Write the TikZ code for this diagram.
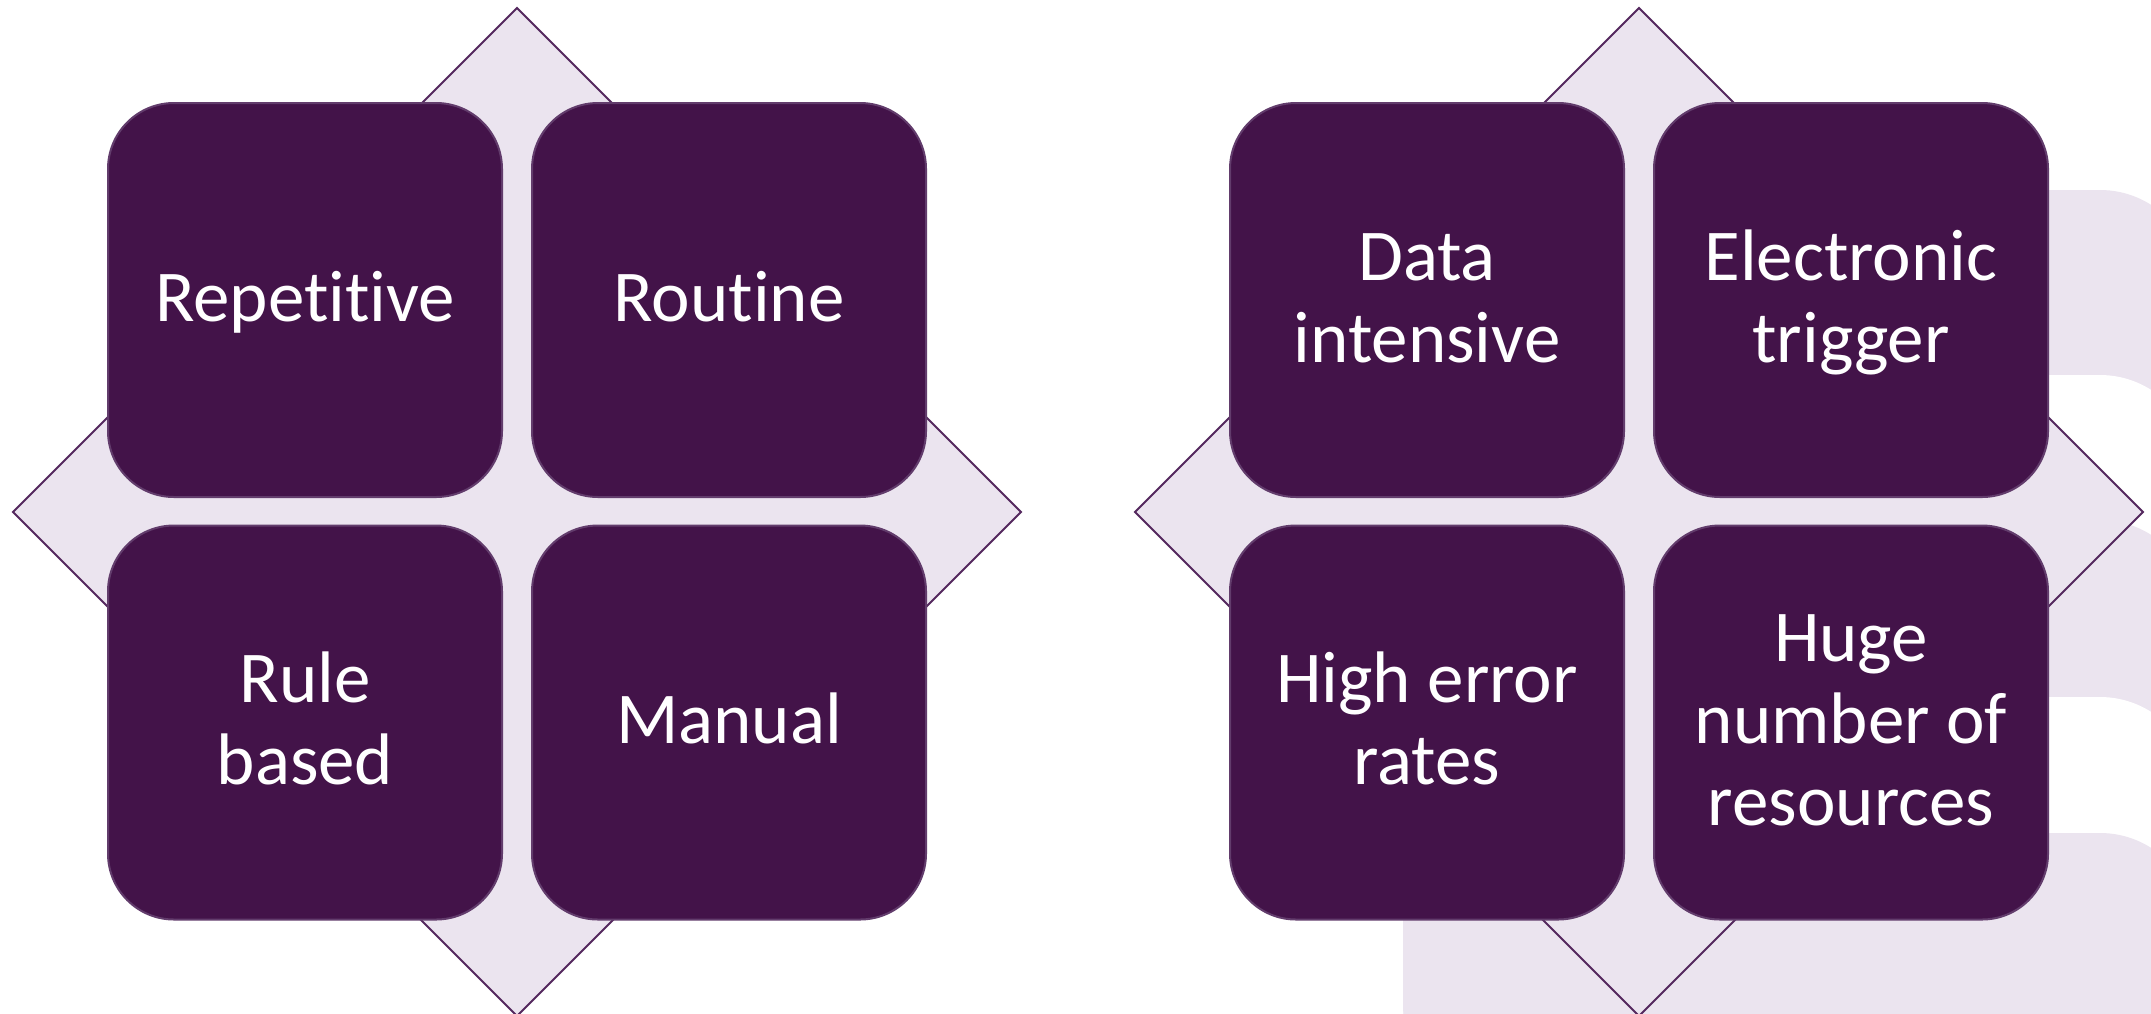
\documentclass[tikz,border=0pt]{standalone}
\usepackage{fontspec}
\setmainfont{Carlito}[Ligatures=NoCommon]
\definecolor{boxfill}{RGB}{67,19,73}
\definecolor{boxline}{RGB}{98,60,108}
\definecolor{lav}{RGB}{235,228,239}
\definecolor{diaLine}{RGB}{84,40,94}
\newcommand\lnst{\rule[-20pt]{0pt}{82pt}}
\begin{document}
\begin{tikzpicture}[x=1pt,y=-1pt,
  card/.style={draw=boxline, line width=2pt, fill=boxfill, rounded corners=66pt,
    minimum width=394pt, minimum height=394pt, inner sep=0pt, text=white,
    align=center, font=\fontsize{73}{82}\selectfont},
  dia/.style={draw=diaLine, line width=2pt, fill=lav},
  wm/.style={fill=lav},
  blank/.style={fill=white}]
\useasboundingbox (0,0) rectangle (2151,1013);
\fill[white] (0,0) rectangle (2151,1013);
% watermark stripes
\begin{scope}
\clip (0,0) rectangle (2151,1013);
\fill[wm] (1403,1100) -- (1403,190) -- (2100,190) [rounded corners=95pt] -- (2195,190) -- (2195,1100) -- cycle;
\fill[blank] (1403,1100) -- (1403,375) -- (2100,375) [rounded corners=95pt] -- (2195,375) -- (2195,1100) -- cycle;
\fill[wm] (1403,1100) -- (1403,520) -- (2100,520) [rounded corners=95pt] -- (2195,520) -- (2195,1100) -- cycle;
\fill[blank] (1403,1100) -- (1403,697) -- (2100,697) [rounded corners=95pt] -- (2195,697) -- (2195,1100) -- cycle;
\fill[wm] (1403,1100) -- (1403,833) -- (2100,833) [rounded corners=95pt] -- (2195,833) -- (2195,1100) -- cycle;
\end{scope}
% diamonds
\draw[dia] (517,8) -- (1021,512) -- (517,1016) -- (13,512) -- cycle;
\draw[dia] (1639,8) -- (2143,512) -- (1639,1016) -- (1135,512) -- cycle;
% cards
\node[card] (rep) at (305,300) {\lnst Repetitive};
\node[card] (rou) at (729,300) {\lnst Routine};
\node[card] (rul) at (305,722.5) {\lnst Rule\\\lnst based};
\node[card] (man) at (729,722.5) {\lnst Manual};
\node[card] (dat) at (1427,300) {\lnst Data\\\lnst intensive};
\node[card] (ele) at (1851,300) {\lnst Electronic\\\lnst trigger};
\node[card] (hig) at (1427,722.5) {\lnst High error\\\lnst rates};
\node[card] (hug) at (1851,722.5) {\lnst Huge\\\lnst number of\\\lnst resources};
\end{tikzpicture}
\end{document}
